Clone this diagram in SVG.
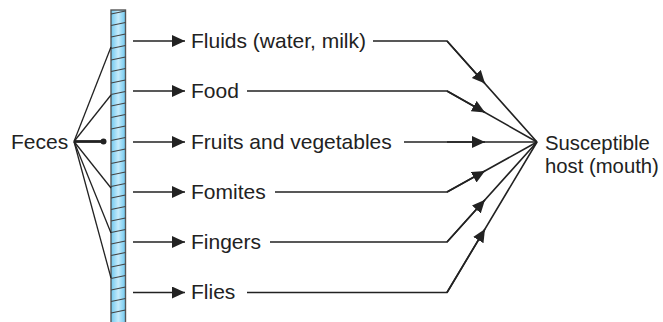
<svg xmlns="http://www.w3.org/2000/svg" width="663" height="322" viewBox="0 0 663 322">
<style>
.t{font-family:"Liberation Sans",Arial,sans-serif;font-size:21px;fill:#222}
.h{font-size:20.3px}
.ln{fill:none;stroke:#222;stroke-width:1.6}
.fl{fill:none;stroke:#222;stroke-width:1.3}
.st{stroke:#444;stroke-width:1.2}
</style>
<defs>
<marker id="ah" markerUnits="userSpaceOnUse" markerWidth="14" markerHeight="13" refX="13" refY="6" orient="auto"><path d="M0,0 L13,6 L0,12 z" fill="#222"/></marker>
<linearGradient id="bg" x1="0" x2="1" y1="0" y2="0"><stop offset="0" stop-color="#6ec8ef"/><stop offset="0.5" stop-color="#c6ebfb"/><stop offset="1" stop-color="#6ec8ef"/></linearGradient>
</defs>
<rect width="663" height="322" fill="#fff"/>
<g id="barrier">
<rect x="111" y="10" width="14.5" height="320" fill="url(#bg)" stroke="#555" stroke-width="1.4"/>
<g class="st">
<line x1="111" y1="14" x2="125.5" y2="11"/><line x1="111" y1="25.5" x2="125.5" y2="22.5"/><line x1="111" y1="37" x2="125.5" y2="34"/><line x1="111" y1="48.5" x2="125.5" y2="45.5"/><line x1="111" y1="60" x2="125.5" y2="57"/><line x1="111" y1="71.5" x2="125.5" y2="68.5"/><line x1="111" y1="83" x2="125.5" y2="80"/><line x1="111" y1="94.5" x2="125.5" y2="91.5"/><line x1="111" y1="106" x2="125.5" y2="103"/><line x1="111" y1="117.5" x2="125.5" y2="114.5"/><line x1="111" y1="129" x2="125.5" y2="126"/><line x1="111" y1="140.5" x2="125.5" y2="137.5"/><line x1="111" y1="152" x2="125.5" y2="149"/><line x1="111" y1="163.5" x2="125.5" y2="160.5"/><line x1="111" y1="175" x2="125.5" y2="172"/><line x1="111" y1="186.5" x2="125.5" y2="183.5"/><line x1="111" y1="198" x2="125.5" y2="195"/><line x1="111" y1="209.5" x2="125.5" y2="206.5"/><line x1="111" y1="221" x2="125.5" y2="218"/><line x1="111" y1="232.5" x2="125.5" y2="229.5"/><line x1="111" y1="244" x2="125.5" y2="241"/><line x1="111" y1="255.5" x2="125.5" y2="252.5"/><line x1="111" y1="267" x2="125.5" y2="264"/><line x1="111" y1="278.5" x2="125.5" y2="275.5"/><line x1="111" y1="290" x2="125.5" y2="287"/><line x1="111" y1="301.5" x2="125.5" y2="298.5"/><line x1="111" y1="313" x2="125.5" y2="310"/>
</g>
</g>
<g id="feces"><text class="t" x="11" y="148.5">Feces</text></g>
<g id="fluids"><text class="t" x="191" y="47.5">Fluids (water, milk)</text></g>
<g id="food"><text class="t" x="191" y="98">Food</text></g>
<g id="fruits"><text class="t" x="191" y="148.5">Fruits and vegetables</text></g>
<g id="fomites"><text class="t" x="191" y="198.5">Fomites</text></g>
<g id="fingers"><text class="t" x="191" y="248.5">Fingers</text></g>
<g id="flies"><text class="t" x="191" y="299">Flies</text></g>
<g id="host"><text class="t h" x="545" y="149.5">Susceptible</text><text class="t h" x="545" y="172.5">host (mouth)</text></g>
<g id="connectors">
<g class="fl">
<line x1="74" y1="141.5" x2="111" y2="47"/>
<line x1="74" y1="141.5" x2="111" y2="95"/>
<line x1="74" y1="141.5" x2="111" y2="188"/>
<line x1="74" y1="141.5" x2="111" y2="233"/>
<line x1="74" y1="141.5" x2="111" y2="278"/>
</g>
<line x1="74" y1="141.5" x2="103" y2="141.5" stroke="#222" stroke-width="2.8"/>
<circle cx="103.5" cy="141.5" r="3" fill="#222"/>
<g class="ln">
<line x1="133" y1="41" x2="185" y2="41" marker-end="url(#ah)"/>
<line x1="133" y1="91" x2="185" y2="91" marker-end="url(#ah)"/>
<line x1="133" y1="142" x2="185" y2="142" marker-end="url(#ah)"/>
<line x1="133" y1="192" x2="185" y2="192" marker-end="url(#ah)"/>
<line x1="133" y1="242" x2="185" y2="242" marker-end="url(#ah)"/>
<line x1="133" y1="292.5" x2="185" y2="292.5" marker-end="url(#ah)"/>
<path d="M373,41 H447 L537,142" stroke-linejoin="round"/>
<path d="M247,91 H447 L537,142" stroke-linejoin="round"/>
<line x1="404" y1="142" x2="537" y2="142"/>
<path d="M275,192 H447 L537,142" stroke-linejoin="round"/>
<path d="M270,242 H447 L537,142" stroke-linejoin="round"/>
<path d="M247,292.5 H447 L537,142" stroke-linejoin="round"/>
<line x1="447" y1="41" x2="485" y2="83.6" marker-end="url(#ah)"/>
<line x1="447" y1="91" x2="485" y2="112.5" marker-end="url(#ah)"/>
<line x1="447" y1="142" x2="485" y2="142" marker-end="url(#ah)"/>
<line x1="447" y1="192" x2="485" y2="170.9" marker-end="url(#ah)"/>
<line x1="447" y1="242" x2="485" y2="199.8" marker-end="url(#ah)"/>
<line x1="447" y1="292.5" x2="485" y2="229" marker-end="url(#ah)"/>
</g>
</g>
</svg>
